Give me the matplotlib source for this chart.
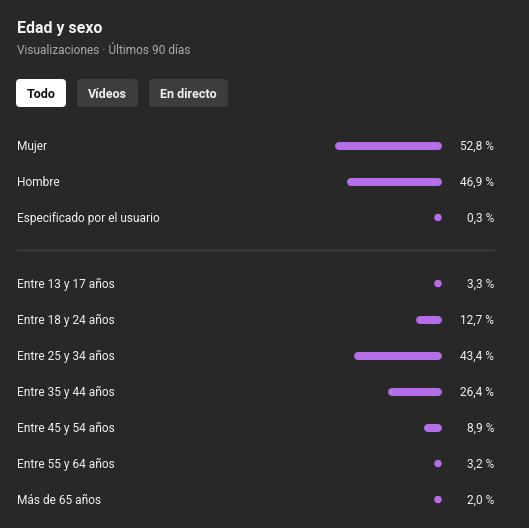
import matplotlib.pyplot as plt
from matplotlib.patches import FancyBboxPatch

# Data
gender_labels = ["Mujer", "Hombre", "Especificado por el usuario"]
gender_values = [52.8, 46.9, 0.3]
age_labels = ["Entre 13 y 17 años", "Entre 18 y 24 años", "Entre 25 y 34 años",
              "Entre 35 y 44 años", "Entre 45 y 54 años", "Entre 55 y 64 años",
              "Más de 65 años"]
age_values = [3.3, 12.7, 43.4, 26.4, 8.9, 3.2, 2.0]
tabs = ["Todo", "Vídeos", "En directo"]

# Style
W, H = 529, 528
bg = "#282828"
fg = "#f1f1f1"
grey = "#aaaaaa"
purple = "#b46ee8"
plt.rcParams['font.family'] = ['Roboto', 'DejaVu Sans']

fig = plt.figure(figsize=(W / 100, H / 100), dpi=100, facecolor=bg)
ax = fig.add_axes([0, 0, 1, 1])
ax.set_xlim(0, W)
ax.set_ylim(H, 0)
ax.axis("off")
ax.set_facecolor(bg)

# Header
ax.text(17, 28.5, "Edad y sexo", color=fg, fontsize=11.5, fontweight="bold", va="center")
ax.text(17, 50, "Visualizaciones · Últimos 90 días", color=grey, fontsize=8.6, va="center")

# Tabs
tab_x = [16, 77, 149]
tab_w = [50, 61, 79]
for i, (t, x0, w) in enumerate(zip(tabs, tab_x, tab_w)):
    face = "#ffffff" if i == 0 else "#3d3d3d"
    col = "#0f0f0f" if i == 0 else fg
    ax.add_patch(FancyBboxPatch((x0 + 4, 79 + 4), w - 8, 28 - 8,
                                boxstyle="round,pad=4", fc=face, ec="none"))
    ax.text(x0 + w / 2, 94, t, color=col, fontsize=9, fontweight="bold",
            ha="center", va="center")

# Separator
ax.plot([17, 494], [250, 250], color="#3f3f3f", lw=1)

# Bars axis: percent units, right edge at px 442
px_per_pct = 2.03
right_px = 442
span = 80
bax = fig.add_axes([(right_px - span * px_per_pct) / W, 0, span * px_per_pct / W, 1])
bax.set_xlim(-span, 0)
bax.set_ylim(H, 0)
bax.axis("off")
bax.patch.set_alpha(0)

cap = 4 / px_per_pct  # round cap radius in percent units

rows = list(zip(gender_labels, gender_values)) + list(zip(age_labels, age_values))
ys = [145.5, 181.5, 217.5] + [283.5 + 36 * i for i in range(len(age_labels))]

for (lab, v), y in zip(rows, ys):
    ax.text(17, y + 1, lab, color=fg, fontsize=8.6, va="center")
    ax.text(494, y + 1, ("%.1f %%" % v).replace(".", ","), color=fg, fontsize=8.6,
            ha="right", va="center")
    if v > 2 * cap:
        bax.plot([-v + cap, -cap], [y, y], color=purple, lw=8 * 0.72,
                 solid_capstyle="round")
    else:
        bax.scatter([-cap], [y], s=(7.5 * 0.72) ** 2, color=purple,
                    edgecolors="none", zorder=3)

fig.savefig("out.png", dpi=100, facecolor=bg)
